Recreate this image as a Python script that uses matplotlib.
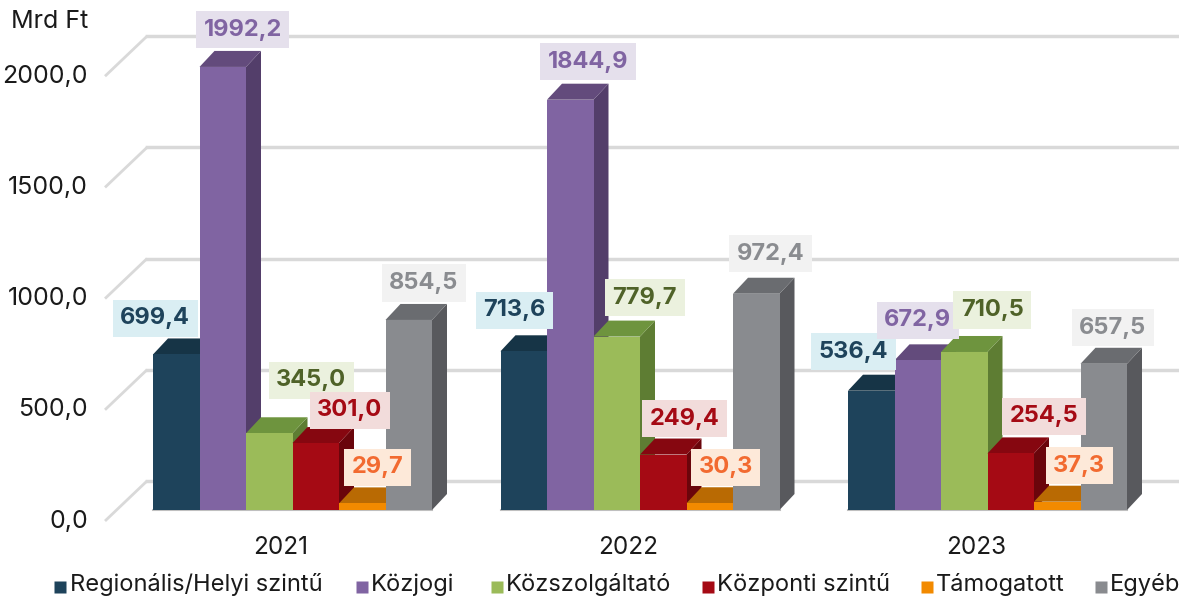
import matplotlib.pyplot as plt
from matplotlib.patches import Rectangle, Polygon

plt.rcParams['font.family'] = ['Inter', 'DejaVu Sans']

years = ['2021', '2022', '2023']
series = ['Regionális/Helyi szintű', 'Közjogi', 'Közszolgáltató',
          'Központi szintű', 'Támogatott', 'Egyéb']
values = [
    [699.4, 1992.2, 345.0, 301.0, 29.7, 854.5],
    [713.6, 1844.9, 779.7, 249.4, 30.3, 972.4],
    [536.4, 672.9, 710.5, 254.5, 37.3, 657.5],
]
yticks = [0, 500, 1000, 1500, 2000]

front = ['#1e435b', '#8064a2', '#9bbb59', '#a50a14', '#f28a00', '#898b8f']
top = ['#163446', '#634b7c', '#6e943e', '#860710', '#b96a03', '#6a6c70']
side = ['#15303f', '#533e6a', '#5e7d33', '#6a050b', '#a05a00', '#58595d']
lab_txt = ['#1e435b', '#8064a2', '#4f6228', '#a50a14', '#f26a30', '#8a8c90']
lab_box = ['#daeef3', '#e5e0ec', '#ebf1de', '#f2dcdb', '#fde9d9', '#f2f2f2']

# label offsets in pixels from the top centre of each bar front
lab_off = [
    [(-21, 36), (20, 37), (42, 53), (34, 33), (15, 36), (15, 37)],
    [(-9, 41), (18, 38), (28, 39), (21, 36), (16, 36), (14, 40)],
    [(-18, 39), (0, 40), (28, 42), (33, 37), (22, 36), (9, 36)],
]
# legend square positions (px from left)
leg_x = [55, 356, 491, 702, 921, 1095]

W, H = 1179, 598
GX = 347.5          # px per group
PY = 111.2 / 500    # px per value unit
X0 = 292.5          # px of first group centre
Y0 = 88             # px of zero line from bottom

fig = plt.figure(figsize=(W / 100, H / 100), dpi=100)
ax = fig.add_axes([0, 0, 1, 1])
ax.set_xlim(-X0 / GX, (W - X0) / GX)
ax.set_ylim(-Y0 / PY, (H - Y0) / PY)
ax.axis('off')


def px(dx, dy):
    return dx / GX, dy / PY


def xpix(p):
    return (p - X0) / GX


def ypix(p):
    # p counted from the top of the figure
    return (H - p - Y0) / PY


bw = 46.5 / GX
ddx, ddy = px(15, 16)
fx, fy = px(-11.5, -11)     # front plane relative to bar front
bx, by = px(30.5, 29)       # back wall relative to bar front

# grid on back wall plus side wall diagonals
for t in yticks:
    ax.plot([xpix(105), xpix(147)], [t + fy, t + by],
            color='#d9d9d9', lw=2, zorder=1, solid_capstyle='butt')
    ax.plot([xpix(147), ax.get_xlim()[1]], [t + by, t + by],
            color='#d9d9d9', lw=2.5, zorder=1)
    ax.text(xpix(88), t + fy, f'{t:.1f}'.replace('.', ','),
            ha='right', va='center', fontsize=18, color='#1a1a1a')

ax.text(xpix(11), ypix(22), 'Mrd Ft', ha='left',
        va='center', fontsize=18, color='#1a1a1a')

z = 2
for i, row in enumerate(values):
    g0 = i - 3 * bw
    ax.plot([g0, g0 + 6 * bw], [0, 0], color='#bfbfbf', lw=1.5, zorder=z)
    for j, v in enumerate(row):
        x0 = g0 + j * bw
        ax.add_patch(Polygon([(x0 + bw, 0), (x0 + bw + ddx, ddy),
                              (x0 + bw + ddx, v + ddy), (x0 + bw, v)],
                             closed=True, fc=side[j], ec='none', zorder=z))
        ax.add_patch(Polygon([(x0, v), (x0 + ddx, v + ddy),
                              (x0 + bw + ddx, v + ddy), (x0 + bw, v)],
                             closed=True, fc=top[j], ec='none', zorder=z))
        ax.add_patch(Rectangle((x0, 0), bw, v, fc=front[j], ec='none',
                               zorder=z + 0.5))
        z += 1
    ax.text(i + fx, -37 / PY, years[i], ha='center', va='center',
            fontsize=17.5, color='#1a1a1a')

for i, row in enumerate(values):
    g0 = i - 3 * bw
    for j, v in enumerate(row):
        ox, oy = px(*lab_off[i][j])
        ax.text(g0 + (j + 0.5) * bw + ox, v + oy,
                f'{v:.1f}'.replace('.', ','), ha='center', va='center',
                fontsize=17, fontweight='bold', color=lab_txt[j],
                bbox=dict(boxstyle='square,pad=0.32', fc=lab_box[j], ec='none'),
                zorder=50)

# legend drawn by hand so the entries sit where the reference has them
for j, name in enumerate(series):
    ax.plot(xpix(leg_x[j] + 5.5), ypix(587), marker='s', ms=8.5,
            mfc=front[j], mec='none', ls='none', clip_on=False)
    ax.text(xpix(leg_x[j] + 15), ypix(585), name, ha='left', va='center',
            fontsize=17, color='#1a1a1a')

fig.savefig('out.png', dpi=100)
